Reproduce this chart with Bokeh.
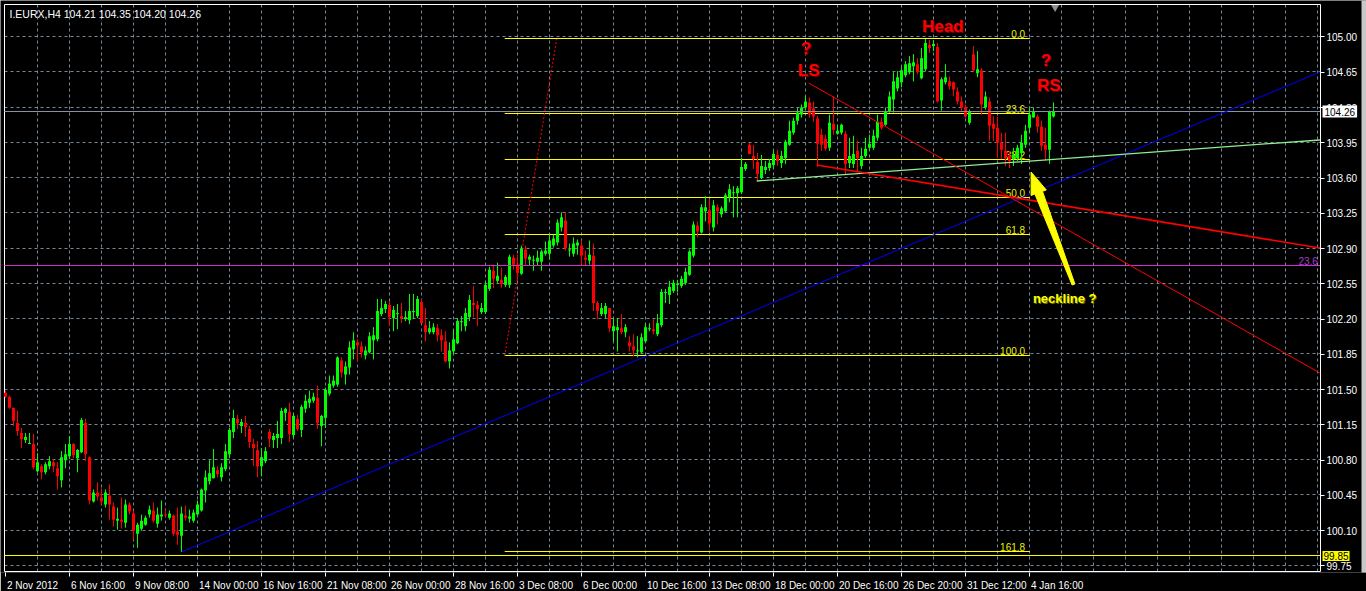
import math
from bokeh.plotting import figure
from bokeh.models import (ColumnDataSource, LinearAxis, FixedTicker, Label,
                          PrintfTickFormatter, Range1d)
from bokeh.embed import file_html
from bokeh.resources import INLINE
from bokeh.core.properties import value

# ---------------- data ----------------
header = "I.EURX,H4  104.21 104.35 104.20 104.26"

opens = [
    101.47, 101.43, 101.32, 101.17, 101.07, 101.00, 100.97, 100.96, 100.69, 100.74,
    100.68, 100.74, 100.78, 100.72, 100.60, 100.80, 100.84, 100.96, 100.82, 100.88,
    101.17, 100.83, 100.39, 100.48, 100.43, 100.36, 100.45, 100.34, 100.20, 100.21,
    100.18, 100.36, 100.27, 100.07, 100.12, 100.16, 100.26, 100.30, 100.17, 100.24,
    100.26, 100.23, 100.25, 100.09, 100.05, 100.25, 100.22, 100.20, 100.26, 100.30,
    100.50, 100.59, 100.62, 100.70, 100.63, 100.71, 100.86, 101.08, 101.21, 101.14,
    101.17, 101.11, 100.96, 100.90, 100.74, 100.79, 101.08, 101.00, 101.02, 101.02,
    101.27, 101.28, 101.05, 101.21, 101.10, 101.31, 101.37, 101.39, 101.42, 101.14,
    101.22, 101.46, 101.54, 101.55, 101.79, 101.65, 101.72, 101.90, 101.97, 101.93,
    101.84, 101.87, 101.99, 102.00, 102.25, 102.30, 102.34, 102.21, 102.25, 102.23,
    102.20, 102.19, 102.27, 102.23, 102.37, 102.14, 102.07, 102.07, 102.11, 102.04,
    101.98, 101.78, 101.88, 101.96, 102.17, 102.13, 102.22, 102.36, 102.34, 102.27,
    102.27, 102.50, 102.68, 102.58, 102.59, 102.54, 102.54, 102.81, 102.74, 102.65,
    102.89, 102.79, 102.78, 102.77, 102.77, 102.85, 102.85, 102.93, 102.96, 103.11,
    103.18, 102.89, 102.85, 102.93, 102.93, 102.81, 102.78, 102.83, 102.36, 102.25,
    102.25, 102.31, 102.08, 102.09, 102.11, 102.07, 101.97, 101.93, 101.89, 101.87,
    101.98, 102.10, 102.10, 102.05, 102.14, 102.46, 102.44, 102.48, 102.54, 102.53,
    102.56, 102.64, 102.83, 103.13, 103.06, 103.27, 103.28, 103.11, 103.31, 103.24,
    103.27, 103.41, 103.46, 103.45, 103.46, 103.69, 103.93, 103.82, 103.76, 103.60,
    103.68, 103.70, 103.73, 103.83, 103.75, 103.80, 103.93, 104.05, 104.17, 104.23,
    104.30, 104.35, 104.29, 104.19, 104.03, 103.99, 103.90, 104.14, 104.04, 104.05,
    104.04, 103.75, 103.74, 103.87, 103.72, 103.82, 103.90, 103.90, 104.00, 104.16,
    104.13, 104.26, 104.38, 104.49, 104.55, 104.62, 104.65, 104.71, 104.73, 104.59,
    104.68, 104.92, 104.91, 104.90, 104.37, 104.55, 104.56, 104.55, 104.46, 104.36,
    104.30, 104.15, 104.83, 104.64, 104.67, 104.30, 104.36, 104.14, 104.10, 103.95,
    103.87, 103.82, 103.79, 103.80, 103.85, 103.93, 104.10, 104.20, 104.21, 104.11,
    103.93, 103.88, 104.21,
]
highs = [
    101.49, 101.44, 101.32, 101.29, 101.12, 101.07, 101.07, 101.06, 100.87, 100.76,
    100.78, 100.84, 100.81, 100.78, 100.89, 100.96, 101.04, 100.97, 100.91, 101.22,
    101.21, 100.84, 100.51, 100.58, 100.52, 100.51, 100.56, 100.38, 100.33, 100.43,
    100.41, 100.38, 100.30, 100.18, 100.26, 100.25, 100.35, 100.38, 100.33, 100.40,
    100.31, 100.30, 100.26, 100.33, 100.34, 100.35, 100.31, 100.31, 100.40, 100.52,
    100.70, 100.80, 100.91, 100.74, 100.77, 100.96, 101.12, 101.30, 101.25, 101.21,
    101.24, 101.14, 101.01, 100.99, 100.92, 100.93, 101.11, 101.07, 101.19, 101.32,
    101.32, 101.37, 101.27, 101.25, 101.35, 101.45, 101.49, 101.47, 101.54, 101.25,
    101.52, 101.64, 101.64, 101.83, 101.82, 101.78, 101.98, 102.07, 102.00, 101.98,
    101.93, 102.07, 102.12, 102.40, 102.40, 102.38, 102.38, 102.33, 102.35, 102.36,
    102.28, 102.45, 102.45, 102.43, 102.40, 102.31, 102.18, 102.16, 102.15, 102.10,
    102.08, 101.97, 102.10, 102.21, 102.23, 102.31, 102.44, 102.53, 102.38, 102.36,
    102.58, 102.72, 102.74, 102.76, 102.71, 102.64, 102.84, 102.84, 102.84, 102.93,
    102.93, 102.84, 102.83, 102.88, 102.89, 102.97, 103.04, 103.04, 103.19, 103.26,
    103.26, 102.95, 103.01, 102.99, 102.98, 102.88, 102.98, 102.95, 102.38, 102.36,
    102.36, 102.31, 102.21, 102.21, 102.25, 102.15, 102.03, 102.05, 102.03, 102.06,
    102.16, 102.16, 102.20, 102.25, 102.50, 102.50, 102.58, 102.59, 102.59, 102.63,
    102.71, 102.89, 103.17, 103.17, 103.34, 103.42, 103.39, 103.38, 103.34, 103.32,
    103.45, 103.54, 103.52, 103.52, 103.80, 103.76, 103.95, 103.93, 103.85, 103.83,
    103.77, 103.79, 103.87, 103.88, 103.87, 103.98, 104.17, 104.20, 104.30, 104.33,
    104.41, 104.40, 104.36, 104.22, 104.09, 104.03, 104.23, 104.41, 104.13, 104.14,
    104.07, 104.00, 104.02, 103.97, 103.90, 104.00, 104.03, 104.08, 104.23, 104.20,
    104.30, 104.46, 104.65, 104.66, 104.70, 104.76, 104.81, 104.83, 104.79, 104.89,
    104.98, 104.97, 104.97, 104.94, 104.60, 104.73, 104.61, 104.56, 104.50, 104.41,
    104.33, 104.28, 104.91, 104.86, 104.69, 104.46, 104.40, 104.21, 104.21, 104.05,
    104.05, 103.87, 103.90, 103.93, 104.03, 104.13, 104.31, 104.30, 104.23, 104.17,
    104.10, 104.27, 104.35,
]
lows = [
    101.42, 101.31, 101.14, 101.04, 100.92, 100.97, 100.96, 100.71, 100.68, 100.61,
    100.66, 100.71, 100.68, 100.51, 100.53, 100.72, 100.81, 100.82, 100.68, 100.87,
    100.79, 100.36, 100.38, 100.40, 100.36, 100.33, 100.21, 100.14, 100.11, 100.12,
    100.13, 100.26, 100.01, 99.93, 100.10, 100.15, 100.23, 100.18, 100.13, 100.20,
    100.24, 100.21, 100.05, 99.96, 99.89, 100.20, 100.18, 100.18, 100.26, 100.29,
    100.38, 100.56, 100.62, 100.63, 100.59, 100.69, 100.82, 101.02, 101.11, 101.07,
    101.03, 100.92, 100.74, 100.63, 100.64, 100.77, 100.93, 100.92, 100.92, 100.96,
    101.19, 100.98, 101.02, 101.09, 101.03, 101.27, 101.32, 101.37, 101.11, 100.94,
    101.12, 101.44, 101.52, 101.53, 101.62, 101.55, 101.65, 101.80, 101.78, 101.82,
    101.80, 101.86, 101.80, 101.98, 102.23, 102.26, 102.13, 102.08, 102.10, 102.16,
    102.18, 102.15, 102.20, 102.21, 102.16, 101.98, 102.05, 102.05, 101.98, 101.88,
    101.77, 101.71, 101.85, 101.95, 102.08, 102.08, 102.18, 102.22, 102.13, 102.25,
    102.25, 102.48, 102.51, 102.56, 102.51, 102.52, 102.51, 102.69, 102.58, 102.64,
    102.74, 102.73, 102.68, 102.73, 102.68, 102.83, 102.79, 102.91, 102.93, 103.07,
    102.88, 102.82, 102.82, 102.84, 102.74, 102.73, 102.74, 102.28, 102.20, 102.23,
    102.21, 102.07, 101.98, 101.88, 102.05, 102.02, 101.88, 101.83, 101.82, 101.86,
    101.97, 102.08, 102.05, 102.03, 102.12, 102.36, 102.35, 102.46, 102.47, 102.51,
    102.54, 102.63, 102.81, 103.01, 103.05, 103.17, 103.07, 103.07, 103.14, 103.21,
    103.26, 103.36, 103.21, 103.21, 103.44, 103.67, 103.84, 103.69, 103.58, 103.59,
    103.64, 103.67, 103.69, 103.72, 103.70, 103.74, 103.92, 104.03, 104.13, 104.20,
    104.27, 104.20, 104.16, 103.71, 103.87, 103.87, 103.87, 104.03, 104.03, 104.03,
    103.64, 103.70, 103.70, 103.67, 103.69, 103.80, 103.87, 103.88, 103.97, 104.08,
    104.12, 104.25, 104.25, 104.46, 104.50, 104.60, 104.63, 104.56, 104.63, 104.58,
    104.66, 104.84, 104.86, 104.35, 104.27, 104.53, 104.48, 104.41, 104.33, 104.26,
    104.20, 104.13, 104.65, 104.60, 104.23, 104.28, 103.97, 103.97, 103.80, 103.79,
    103.72, 103.70, 103.72, 103.77, 103.74, 103.90, 104.05, 104.20, 104.05, 103.87,
    103.77, 103.74, 104.20,
]
closes = [
    101.43, 101.32, 101.19, 101.09, 101.01, 101.03, 100.97, 100.73, 100.78, 100.68,
    100.76, 100.79, 100.74, 100.64, 100.83, 100.86, 100.96, 100.85, 100.90, 101.20,
    100.86, 100.40, 100.48, 100.44, 100.39, 100.48, 100.36, 100.21, 100.22, 100.19,
    100.36, 100.29, 100.10, 100.16, 100.20, 100.23, 100.31, 100.20, 100.26, 100.26,
    100.25, 100.27, 100.07, 100.06, 100.27, 100.23, 100.24, 100.28, 100.36, 100.51,
    100.63, 100.67, 100.73, 100.66, 100.73, 100.89, 101.10, 101.22, 101.17, 101.18,
    101.13, 100.98, 100.92, 100.74, 100.83, 100.89, 101.01, 101.04, 101.06, 101.29,
    101.31, 101.06, 101.24, 101.11, 101.33, 101.39, 101.41, 101.43, 101.17, 101.24,
    101.50, 101.56, 101.59, 101.82, 101.67, 101.73, 101.92, 101.99, 101.94, 101.87,
    101.89, 102.03, 102.04, 102.28, 102.31, 102.35, 102.22, 102.29, 102.26, 102.21,
    102.22, 102.28, 102.28, 102.40, 102.16, 102.07, 102.11, 102.12, 102.04, 101.99,
    101.78, 101.89, 102.00, 102.18, 102.18, 102.26, 102.39, 102.34, 102.30, 102.31,
    102.54, 102.69, 102.60, 102.63, 102.55, 102.62, 102.82, 102.74, 102.66, 102.90,
    102.80, 102.82, 102.79, 102.81, 102.87, 102.88, 102.98, 103.00, 103.16, 103.21,
    102.90, 102.89, 102.95, 102.96, 102.83, 102.79, 102.84, 102.36, 102.28, 102.31,
    102.33, 102.11, 102.13, 102.12, 102.07, 102.12, 101.93, 101.89, 101.89, 102.02,
    102.12, 102.11, 102.08, 102.16, 102.47, 102.47, 102.52, 102.56, 102.55, 102.60,
    102.67, 102.87, 103.14, 103.07, 103.31, 103.31, 103.15, 103.33, 103.27, 103.30,
    103.43, 103.49, 103.46, 103.50, 103.71, 103.74, 103.84, 103.79, 103.64, 103.72,
    103.71, 103.75, 103.84, 103.77, 103.82, 103.96, 104.07, 104.17, 104.25, 104.30,
    104.36, 104.23, 104.21, 103.94, 103.93, 103.89, 104.15, 104.08, 104.07, 104.13,
    103.74, 103.82, 103.84, 103.80, 103.82, 103.89, 103.94, 104.02, 104.16, 104.10,
    104.26, 104.41, 104.56, 104.60, 104.67, 104.73, 104.74, 104.75, 104.65, 104.79,
    104.94, 104.89, 104.93, 104.36, 104.58, 104.60, 104.51, 104.48, 104.36, 104.30,
    104.21, 104.26, 104.67, 104.68, 104.33, 104.41, 104.12, 104.09, 103.95, 103.88,
    103.80, 103.77, 103.83, 103.90, 103.95, 104.07, 104.23, 104.26, 104.11, 103.92,
    103.88, 104.26, 104.26,
]

x_tick_bars = [0, 16, 32, 48, 64, 80, 96, 112, 128, 144, 160, 176, 192, 208, 224, 240, 256]
x_tick_labels = ["2 Nov 2012", "6 Nov 16:00", "9 Nov 08:00", "14 Nov 00:00", "16 Nov 16:00",
                 "21 Nov 08:00", "26 Nov 00:00", "28 Nov 16:00", "3 Dec 08:00", "6 Dec 00:00",
                 "10 Dec 16:00", "13 Dec 08:00", "18 Dec 00:00", "20 Dec 16:00", "26 Dec 20:00",
                 "31 Dec 12:00", "4 Jan 16:00"]
y_ticks = [99.75, 100.10, 100.45, 100.80, 101.15, 101.50, 101.85, 102.20, 102.55, 102.90,
           103.25, 103.60, 103.95, 104.30, 104.65, 105.00]

bid_price = 104.26
hline_price = 99.85
magenta_price = 102.727
magenta_label = "23.6"

fib_levels = [0.0, 23.6, 38.2, 50.0, 61.8, 100.0, 161.8]
fib_high = 104.98
fib_low = 101.834
fib_t0, fib_t1 = 124.8, 256.1          # bar span of the fibo levels
fib_anchor = ([124.8, 137.8], [101.834, 104.98])

# drawn objects: (x0, y0, x1, y1) in bar index / price
blue_trend = (44.08, 99.89, 328.6, 104.653)
green_neck = (187.8, 103.571, 328.6, 103.978)
red_thin = (200.8, 104.543, 328.6, 101.665)
red_thick = (202.8, 103.730, 328.6, 102.906)

arrow_x = [256.4, 260.2, 259.25, 267.35, 266.65, 257.35, 256.4]
arrow_y = [103.660, 103.482, 103.468, 102.549, 102.539, 103.441, 103.427]

red_texts = [("Head", 234.3, 105.109), ("?", 200.1, 104.881), ("LS", 200.8, 104.672),
             ("?", 260.1, 104.762), ("RS", 260.8, 104.514)]
neck_text = ("neckline ?", 264.8, 102.400)

# ---------------- layout constants (chart box inside the canvas) ----------------
FONT = "Liberation Sans"
FRAME_W, FRAME_H = 1366, 572
BOTTOM = 19
YR = (99.68547, 105.36224)
XR = (-1.25, 340.25)
X0, X1 = -0.25, 328.75          # chart box left / right (bar units)
S = FRAME_H / (YR[1] - YR[0])   # pixels per price unit

def snap(price):
    """put a horizontal 1px line on a whole pixel so that it renders crisp"""
    px = (YR[1] - price) * S
    return YR[1] - math.floor(px) / S

Y1 = snap(105.3176)             # chart box top
Y0 = snap(99.6904)              # chart box bottom

p = figure(frame_width=FRAME_W, frame_height=FRAME_H, x_range=Range1d(*XR), y_range=Range1d(*YR),
           output_backend="svg", toolbar_location=None,
           x_axis_location=None, y_axis_location=None,
           background_fill_color="black", border_fill_color="black",
           min_border_left=0, min_border_top=0, min_border_right=0, min_border_bottom=BOTTOM)
p.outline_line_color = None
p.grid.visible = False

# window chrome strip on the right
p.quad(left=[339.0], right=[341.0], bottom=[99.0], top=[106.0],
       fill_color="#C8C8C8", line_color=None)

# dashed grid
GRID_C = "#778899"
gx = [8 * k for k in range(1, 42)]
p.segment(x0=gx, y0=[Y0] * len(gx), x1=gx, y1=[Y1] * len(gx),
          line_color=GRID_C, line_dash="3 3", line_width=1)
gy = [snap(t) for t in y_ticks]
p.segment(x0=[X0] * len(gy), y0=gy, x1=[X1] * len(gy), y1=gy,
          line_color=GRID_C, line_dash="3 3", line_width=1)

# chart border (left, top, bottom); right edge is the price axis line
p.segment(x0=[X0, X0, X0], y0=[Y0, Y1, Y0], x1=[X0, X1, X1], y1=[Y1, Y1, Y0],
          line_color="white", line_width=1)

# right price axis, pinned at the chart's right edge
yax = LinearAxis(ticker=FixedTicker(ticks=y_ticks), formatter=PrintfTickFormatter(format="%.2f"),
                 fixed_location=X1, bounds=(Y0, Y1))
yax.axis_line_color = "white"
yax.major_tick_line_color = "white"
yax.major_tick_out = 4
yax.major_tick_in = 0
yax.minor_tick_line_color = None
yax.major_label_text_color = "white"
yax.major_label_text_font = FONT
yax.major_label_text_font_size = "10px"
yax.major_label_standoff = 2
p.add_layout(yax, "right")

# time axis: labels left-aligned after each tick (minor ticks mark the times)
char_w = {" ": 278, ":": 278, "N": 722, "o": 556, "v": 500, "D": 722, "e": 556, "c": 500,
          "J": 500, "a": 556, "n": 556}
def text_w(s, size=10):
    return sum(char_w.get(ch, 556) for ch in s) * size / 1000.0
label_pos = [round(b + (1.5 + text_w(t) / 2.0) / 4.0, 2) for b, t in zip(x_tick_bars, x_tick_labels)]
xax = LinearAxis(ticker=FixedTicker(ticks=label_pos, minor_ticks=x_tick_bars))
xax.major_label_overrides = {pos: t for pos, t in zip(label_pos, x_tick_labels)}
xax.axis_line_color = None
xax.major_tick_line_color = None
xax.major_tick_out = 0
xax.major_tick_in = 0
xax.minor_tick_line_color = "white"
xax.minor_tick_out = 4
xax.minor_tick_in = 0
xax.major_label_text_color = "white"
xax.major_label_text_font = FONT
xax.major_label_text_font_size = "10px"
xax.major_label_standoff = 3
p.add_layout(xax, "below")

# ---------------- background objects (fibonacci) ----------------
fib_prices = [fib_high - lv / 100.0 * (fib_high - fib_low) for lv in fib_levels]
fib_lines = [snap(v) for v in fib_prices]
p.segment(x0=[fib_t0] * len(fib_lines), y0=fib_lines, x1=[fib_t1] * len(fib_lines), y1=fib_lines,
          line_color="#FFFF00", line_width=1)
p.text(x=[254.9] * len(fib_lines), y=fib_lines, text=["%.1f" % lv for lv in fib_levels],
       text_color="#F0F000", text_font=value(FONT), text_font_size="10px",
       text_align="right", text_baseline="bottom", y_offset=-1)
p.line(x=fib_anchor[0], y=fib_anchor[1], line_color="#FF0000", line_width=1, line_dash="2 2")

# ---------------- candles ----------------
n = min(len(opens), len(highs), len(lows), len(closes))
xs = list(range(n))
colors = ["#00FF00" if closes[i] >= opens[i] else "#FF0000" for i in xs]
tops = [max(opens[i], closes[i]) for i in xs]
bots = [min(opens[i], closes[i]) for i in xs]
bots = [b if t - b >= 0.01 else t - 0.01 for t, b in zip(tops, bots)]
src = ColumnDataSource(dict(x=xs, high=highs[:n], low=lows[:n], top=tops, bottom=bots, color=colors))
p.segment(x0="x", y0="high", x1="x", y1="low", line_color="color", line_width=1, source=src)
p.vbar(x="x", width=0.75, top="top", bottom="bottom", fill_color="color", line_color=None, source=src)

# ---------------- horizontal lines ----------------
for price, col in [(bid_price, "#8494A8"), (hline_price, "#FFFF00"), (magenta_price, "#CC33CC")]:
    yy = snap(price)
    p.segment(x0=[X0], y0=[yy], x1=[X1], y1=[yy], line_color=col, line_width=1)
p.text(x=[328.1], y=[snap(magenta_price)], text=[magenta_label], text_color="#A040D0",
       text_font=value(FONT), text_font_size="10px", text_align="right", text_baseline="bottom",
       y_offset=-1)

# ---------------- trend lines ----------------
for (x0, y0, x1, y1), col, w in [(blue_trend, "#0000FF", 1), (green_neck, "#90EE90", 1.3),
                                   (red_thin, "#FF0000", 1), (red_thick, "#FF0000", 1.6)]:
    p.line(x=[x0, x1], y=[y0, y1], line_color=col, line_width=w)

# arrow
p.patch(x=arrow_x, y=arrow_y, fill_color="#FFFF00", line_color="#FFFF00", line_width=1)

# chart shift marker
p.scatter(x=[262.4], y=[105.295], marker="inverted_triangle", size=8,
          fill_color="#909090", line_color=None)

# ---------------- texts ----------------
for txt, tx, ty in red_texts:
    p.add_layout(Label(x=tx, y=ty, text=txt, text_align="center", text_baseline="middle",
                       text_font=FONT, text_font_style="bold", text_font_size="17px",
                       text_color="#700000", x_offset=1, y_offset=-1))
    p.add_layout(Label(x=tx, y=ty, text=txt, text_align="center", text_baseline="middle",
                       text_font=FONT, text_font_style="bold", text_font_size="17px",
                       text_color="#FF0000"))
p.add_layout(Label(x=neck_text[1], y=neck_text[2], text=neck_text[0], text_align="center",
                   text_baseline="middle", text_font=FONT, text_font_style="bold",
                   text_font_size="13px", text_color="#6A6A00", x_offset=1, y_offset=-1))
p.add_layout(Label(x=neck_text[1], y=neck_text[2], text=neck_text[0], text_align="center",
                   text_baseline="middle", text_font=FONT, text_font_style="bold",
                   text_font_size="13px", text_color="#FFFF00"))

p.add_layout(Label(x=1.0, y=105.233, text=header, text_align="left", text_baseline="middle",
                   text_font=FONT, text_font_size="10.5px", text_color="white"))

# price boxes on the price scale
p.add_layout(Label(x=329.25, y=bid_price, text="%.2f" % bid_price, text_align="left",
                   text_baseline="middle", text_font=FONT, text_font_size="10px",
                   text_color="black", background_fill_color="white", padding=2))
p.add_layout(Label(x=329.25, y=hline_price, text="%.2f" % hline_price, text_align="left",
                   text_baseline="middle", text_font=FONT, text_font_size="10px",
                   text_color="black", background_fill_color="#FFFF00", padding=1))

open("out.html", "w").write(file_html(p, INLINE))
